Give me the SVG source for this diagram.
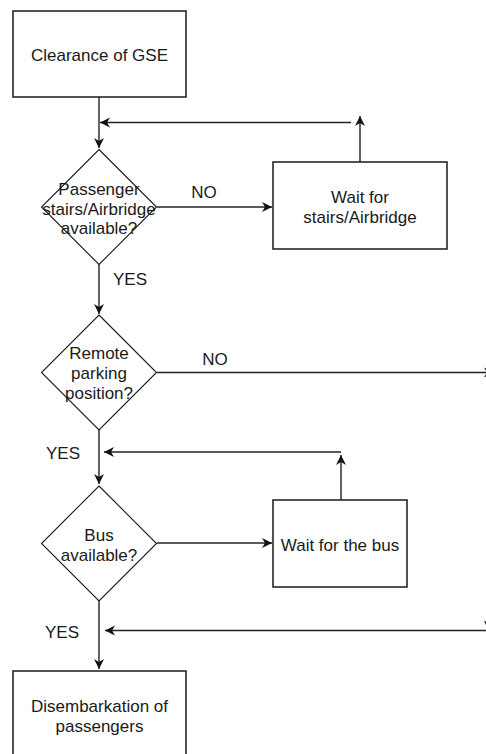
<svg xmlns="http://www.w3.org/2000/svg" width="486" height="754" viewBox="0 0 486 754">
  <style>
    .box { fill: #ffffff; stroke: #1a1a1a; stroke-width: 1.5; }
    .dia { fill: #ffffff; stroke: #1a1a1a; stroke-width: 1.1; }
    .lbl { font-family: "Liberation Sans", Arial, Helvetica, sans-serif; font-size: 17px; fill: #1a1a1a; text-anchor: middle; }
    .edge { fill: none; stroke: #222222; stroke-width: 1.4; }
  </style>
  <defs>
    <marker id="arrow" markerUnits="userSpaceOnUse" markerWidth="12" markerHeight="12" refX="10" refY="5" orient="auto" overflow="visible">
      <path d="M0,0 L10,5 L0,10 L3,5 Z" fill="#111111"/>
    </marker>
  </defs>
  <rect width="486" height="754" fill="#ffffff"/>

  <g id="connectors">
    <!-- Clearance of GSE -> first decision -->
    <path class="edge" d="M99,97 V148" marker-end="url(#arrow)"/>
    <!-- return from stairs wait -->
    <path class="edge" d="M351,122.5 H100" marker-end="url(#arrow)"/>
    <path class="edge" d="M360,162 V116" marker-end="url(#arrow)"/>
    <!-- NO: wait for stairs -->
    <path class="edge" d="M157,207 H272" marker-end="url(#arrow)"/>
    <!-- YES: remote parking decision -->
    <path class="edge" d="M99,264 V314" marker-end="url(#arrow)"/>
    <!-- NO: remote parking, leaves to the right -->
    <path class="edge" d="M157,372.5 H494" marker-end="url(#arrow)"/>
    <!-- YES: bus decision -->
    <path class="edge" d="M99,430 V484" marker-end="url(#arrow)"/>
    <!-- return from bus wait -->
    <path class="edge" d="M341,452 H104" marker-end="url(#arrow)"/>
    <path class="edge" d="M341,500 V455" marker-end="url(#arrow)"/>
    <!-- NO: wait for the bus -->
    <path class="edge" d="M157,543 H272" marker-end="url(#arrow)"/>
    <!-- YES: disembarkation -->
    <path class="edge" d="M99,601 V669" marker-end="url(#arrow)"/>
    <!-- incoming from the right -->
    <path class="edge" d="M490,630.5 H105" marker-end="url(#arrow)"/>
    <path d="M484,620.5 L488,623 L492,620.5 L488,630 Z" fill="#111111"/>

    <text class="lbl" x="204" y="198">NO</text>
    <text class="lbl" x="130" y="285">YES</text>
    <text class="lbl" x="215" y="365">NO</text>
    <text class="lbl" x="63" y="459">YES</text>
    <text class="lbl" x="62" y="638">YES</text>
  </g>

  <g id="clearance">
    <rect class="box" x="13" y="11" width="173" height="86"/>
    <text class="lbl" x="99.5" y="61">Clearance of GSE</text>
  </g>

  <g id="stairs-available">
    <polygon class="dia" points="99,149.5 156.5,207 99,264.5 41.5,207"/>
    <text class="lbl" x="99" y="195">Passenger</text>
    <text class="lbl" x="99" y="214.5">stairs/Airbridge</text>
    <text class="lbl" x="99" y="234">available?</text>
  </g>

  <g id="wait-stairs">
    <rect class="box" x="273" y="162" width="174" height="87"/>
    <text class="lbl" x="360" y="203">Wait for</text>
    <text class="lbl" x="360" y="223">stairs/Airbridge</text>
  </g>

  <g id="remote-parking">
    <polygon class="dia" points="99,315 156.5,372.5 99,430 41.5,372.5"/>
    <text class="lbl" x="99" y="359">Remote</text>
    <text class="lbl" x="99" y="379">parking</text>
    <text class="lbl" x="99" y="399">position?</text>
  </g>

  <g id="bus-available">
    <polygon class="dia" points="99,486 156.5,543.5 99,601 41.5,543.5"/>
    <text class="lbl" x="99" y="541">Bus</text>
    <text class="lbl" x="99" y="561">available?</text>
  </g>

  <g id="wait-bus">
    <rect class="box" x="273" y="500" width="134" height="87"/>
    <text class="lbl" x="340" y="551">Wait for the bus</text>
  </g>

  <g id="disembarkation">
    <rect class="box" x="13" y="671" width="173" height="87"/>
    <text class="lbl" x="99.5" y="712">Disembarkation of</text>
    <text class="lbl" x="99.5" y="732">passengers</text>
  </g>
</svg>
